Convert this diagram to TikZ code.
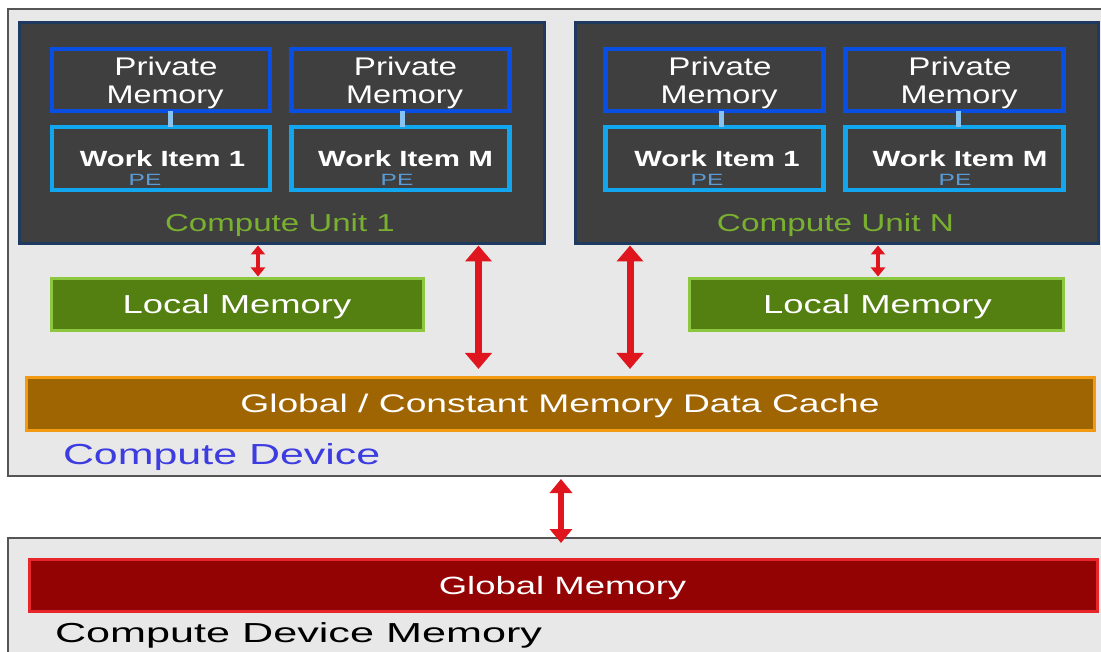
\documentclass[tikz,border=0pt]{standalone}
\usepackage{fontspec}
\usepackage{graphicx}
\setmainfont{Liberation Sans}
\usetikzlibrary{arrows.meta}

\definecolor{devbg}{HTML}{E8E8E8}
\definecolor{devline}{HTML}{555555}
\definecolor{cufill}{HTML}{3F3F3F}
\definecolor{culine}{HTML}{1F3A60}
\definecolor{privblue}{HTML}{0A4FE4}
\definecolor{wiblue}{HTML}{12A6EE}
\definecolor{linkblue}{HTML}{86C2F2}
\definecolor{petext}{HTML}{5B9BD5}
\definecolor{cutext}{HTML}{7AB030}
\definecolor{lmfill}{HTML}{548012}
\definecolor{lmline}{HTML}{8DC63F}
\definecolor{cachefill}{HTML}{A06503}
\definecolor{cacheline}{HTML}{F29A12}
\definecolor{devtext}{HTML}{3C3CE0}
\definecolor{gmfill}{HTML}{940303}
\definecolor{gmline}{HTML}{E6262B}
\definecolor{arrowred}{HTML}{E0161E}

% horizontally widened text
\newcommand{\wide}[2]{\scalebox{#1}[1]{#2}}
\newcommand{\fs}[1]{\fontsize{#1}{#1}\selectfont}

\tikzset{
  box/.style={rectangle, inner sep=0pt, outer sep=0pt},
  lbl/.style={inner sep=0pt, outer sep=0pt, anchor=base},
  devbox/.style={box, fill=devbg, draw=devline, line width=1.5pt},
  cubox/.style={box, fill=cufill, draw=culine, line width=3pt},
  privbox/.style={box, draw=privblue, line width=4.5pt, minimum width=218pt, minimum height=62pt},
  wibox/.style={box, draw=wiblue, line width=4.5pt, minimum width=218pt, minimum height=63pt},
  privtxt/.style={lbl, text=white, font=\fs{25.5}},
  witext/.style={lbl, text=white, font=\fs{22}\bfseries},
  petxt/.style={lbl, text=petext, font=\fs{16.3}},
  cutxt/.style={lbl, text=cutext, font=\fs{24.5}},
  link/.style={draw=linkblue, line width=5pt},
  lmbox/.style={box, fill=lmfill, draw=lmline, line width=3pt, minimum height=52pt},
  lmtxt/.style={lbl, text=white, font=\fs{26}},
  cachebox/.style={box, fill=cachefill, draw=cacheline, line width=3pt, minimum width=1068pt,
    minimum height=53pt},
  gmbox/.style={box, fill=gmfill, draw=gmline, line width=3pt, minimum width=1068pt,
    minimum height=52pt},
  bigarrow/.style={draw=arrowred, line width=7pt, {Triangle[width=26pt,length=16pt]}-{Triangle[width=26pt,length=16pt]}},
  midarrow/.style={draw=arrowred, line width=6pt, {Triangle[width=22pt,length=14pt]}-{Triangle[width=22pt,length=14pt]}},
  smallarrow/.style={draw=arrowred, line width=4pt, {Triangle[width=14pt,length=9pt]}-{Triangle[width=14pt,length=9pt]}},
}

\begin{document}
\begin{tikzpicture}[x=1pt, y=-1pt]
\useasboundingbox (0,0) rectangle (1101,652);
\clip (0,0) rectangle (1101,652);
\fill[white] (0,0) rectangle (1101,652);

% compute device and device memory frames
\node[devbox, minimum width=1102pt, minimum height=467pt] (device) at (559,242.5) {};
\node[devbox, minimum width=1102pt, minimum height=140pt] (devmem) at (559,608) {};

% compute units
\node[cubox, minimum width=525pt, minimum height=221pt] (cu1) at (281.5,133.5) {};
\node[cubox, minimum width=523pt, minimum height=221pt] (cun) at (836.5,133.5) {};

% private memories
\node[privbox] (p11) at (161,80) {};
\node[privbox] (p1m) at (400.5,80) {};
\node[privbox] (pn1) at (714.5,80) {};
\node[privbox] (pnm) at (954.5,80) {};
\foreach \n/\cx in {p11/166, p1m/405.5, pn1/720, pnm/960} {
  \node[privtxt] (\n a) at (\cx,75.5) {\wide{1.30}{Private}};
  \node[privtxt] (\n b) at (\cx-1,104) {\wide{1.27}{Memory}};
}

% work items
\node[wibox] (w11) at (161,158.5) {};
\node[wibox] (w1m) at (400.5,158.5) {};
\node[wibox] (wn1) at (714.5,158.5) {};
\node[wibox] (wnm) at (954.5,158.5) {};

\draw[link] (p11.south -| 170,0) -- (w11.north -| 170,0);
\draw[link] (p1m.south -| 402,0) -- (w1m.north -| 402,0);
\draw[link] (pn1.south -| 721,0) -- (wn1.north -| 721,0);
\draw[link] (pnm.south -| 958,0) -- (wnm.north -| 958,0);

\node[witext] (t11) at (162.5,167) {\wide{1.33}{Work Item 1}};
\node[witext] (t1m) at (405.5,167) {\wide{1.34}{Work Item M}};
\node[witext] (tn1) at (717,167) {\wide{1.33}{Work Item 1}};
\node[witext] (tnm) at (960,167) {\wide{1.34}{Work Item M}};
\node[petxt] (e11) at (145,185.5) {\wide{1.5}{PE}};
\node[petxt] (e1m) at (397,185.5) {\wide{1.5}{PE}};
\node[petxt] (en1) at (707,185.5) {\wide{1.5}{PE}};
\node[petxt] (enm) at (955,185.5) {\wide{1.5}{PE}};

\node[cutxt] (cu1l) at (280,232) {\wide{1.35}{Compute Unit 1}};
\node[cutxt] (cunl) at (835.5,232) {\wide{1.36}{Compute Unit N}};

% local memories
\node[lmbox, minimum width=372pt] (lm1) at (237.5,304.5) {};
\node[lmbox, minimum width=374pt] (lmn) at (876.5,304.5) {};
\node[lmtxt] (lm1l) at (237,314) {\wide{1.40}{Local Memory}};
\node[lmtxt] (lmnl) at (877.5,314) {\wide{1.40}{Local Memory}};

% data cache
\node[cachebox] (cache) at (560.5,404) {};
\node[lbl, text=white, font=\fs{25.5}] (cachel) at (560,413) {\wide{1.46}{Global / Constant Memory Data Cache}};
\node[lbl, anchor=base west, text=devtext, font=\fs{29}] (devl) at (63,464) {\wide{1.48}{Compute Device}};

% global memory
\node[gmbox] (gm) at (563.5,585.5) {};
\node[lbl, text=white, font=\fs{25}] (gml) at (562.5,594) {\wide{1.46}{Global Memory}};
\node[lbl, anchor=base west, text=black, font=\fs{27.5}] (meml) at (55,642.5) {\wide{1.57}{Compute Device Memory}};

% transfers
\coordinate (xa) at (258,0);
\coordinate (xb) at (478.5,0);
\coordinate (xc) at (630,0);
\coordinate (xd) at (878,0);
\coordinate (xe) at (561,0);
\draw[smallarrow, shorten <=1.5pt, shorten >=2pt] (cu1.south -| xa) -- (lm1.north -| xa);
\draw[smallarrow, shorten <=1.5pt, shorten >=2pt] (cun.south -| xd) -- (lmn.north -| xd);
\draw[bigarrow, shorten <=1.5pt, shorten >=8.5pt] (cu1.south -| xb) -- (cache.north -| xb);
\draw[bigarrow, shorten <=1.5pt, shorten >=8.5pt] (cun.south -| xc) -- (cache.north -| xc);
\draw[midarrow, shorten <=3pt, shorten >=-5pt] (device.south -| xe) -- (devmem.north -| xe);
\end{tikzpicture}
\end{document}
